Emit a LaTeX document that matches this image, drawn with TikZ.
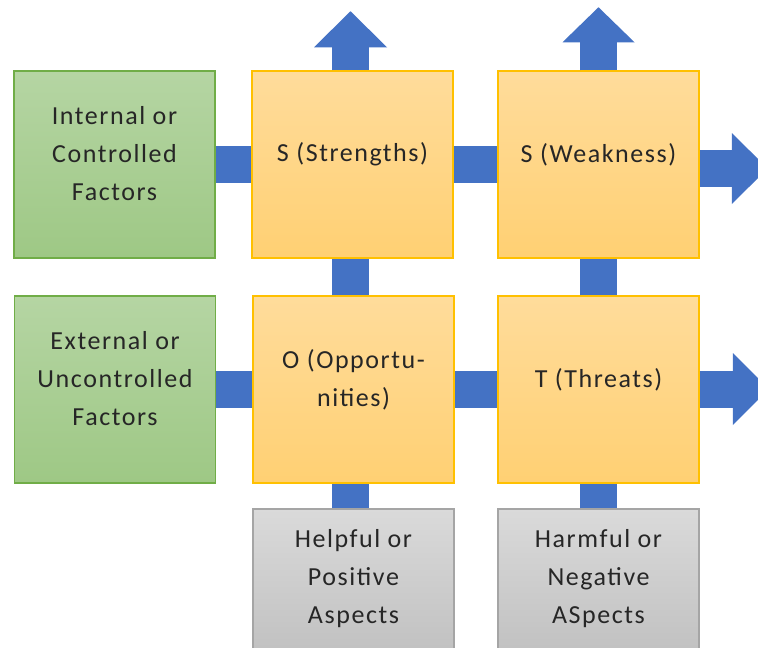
\documentclass[tikz,border=0pt]{standalone}
\usepackage{fontspec}
\setmainfont[LetterSpace=6]{Carlito}
\usetikzlibrary{calc}
\definecolor{conblue}{HTML}{4472C4}
\definecolor{gtop}{RGB}{181,213,163}
\definecolor{gbot}{RGB}{158,200,133}
\definecolor{gline}{HTML}{70AD47}
\definecolor{otop}{RGB}{255,220,155}
\definecolor{obot}{RGB}{255,208,115}
\definecolor{oline}{HTML}{FFC000}
\definecolor{ytop}{RGB}{218,218,218}
\definecolor{ybot}{RGB}{190,190,190}
\definecolor{yline}{HTML}{A5A5A5}
\definecolor{txt}{RGB}{38,38,38}
\begin{document}
\begin{tikzpicture}[x=1pt,y=-1pt,
  box/.style={rectangle,minimum width=201pt,minimum height=187pt,inner sep=0pt,line width=1.5pt},
  greenbox/.style={box,draw=gline,top color=gtop,bottom color=gbot},
  orangebox/.style={box,draw=oline,top color=otop,bottom color=obot},
  graybox/.style={box,minimum height=161pt,draw=yline,top color=ytop,bottom color=ybot},
  lbl/.style={align=center,text=txt,font=\fontsize{26}{38}\selectfont,inner sep=0pt},
  conn/.style={draw=conblue,line width=37pt,line cap=butt},
  head/.style={fill=conblue}
]
\clip (0,0) rectangle (758,648);
\useasboundingbox (0,0) rectangle (758,648);
% boxes
\node[greenbox] (g1) at (114.5,164.5) {};
\node[orangebox] (s) at (352.5,164.5) {};
\node[orangebox] (w) at (598.5,164.5) {};
\node[greenbox] (g2) at (115,389.5) {};
\node[orangebox] (o) at (353.5,389.5) {};
\node[orangebox] (t) at (598.5,389.5) {};
\node[graybox] (h1) at (353.5,589.5) {};
\node[graybox] (h2) at (598.5,589.5) {};
% labels
\node[lbl] (g1t) at ($(g1.center)+(0,-11)$) {Internal or\\Controlled\\Factors};
\node[lbl] (st) at ($(s.center)+(0,-10)$) {S (Strengths)};
\node[lbl] (wt) at ($(w.center)+(0,-10)$) {S (Weakness)};
\node[lbl] (g2t) at ($(g2.center)+(0,-11)$) {External or\\Uncontrolled\\Factors};
\node[lbl] (ot) at ($(o.center)+(0,-10)$) {O (Opportu-\\nities)};
\node[lbl] (tt) at ($(t.center)+(0,-10)$) {T (Threats)};
\node[lbl] (h1t) at ($(h1.center)+(0,-11)$) {Helpful or\\Positive\\Aspects};
\node[lbl] (h2t) at ($(h2.center)+(0,-11)$) {Harmful or\\Negative\\ASpects};
% plain connectors
\draw[conn] (g1.east) -- (s.west);
\draw[conn] (s.east) -- (w.west);
\draw[conn] (g2.east) -- (o.west);
\draw[conn] (o.east) -- (t.west);
\draw[conn] ($(o.north)+(-3,0)$) -- ($(s.south)+(-2,0)$);
\draw[conn] (t.north) -- (w.south);
\draw[conn] ($(h1.north)+(-3,0)$) -- ($(o.south)+(-3,0)$);
\draw[conn] (h2.north) -- (t.south);
% arrows with heads
\coordinate (tipS) at ($(s.north)+(-2,-59)$);
\draw[conn] ($(s.north)+(-2,0)$) -- ($(tipS)+(0,36)$);
\fill[head] ($(tipS)+(-36.5,36)$) -- (tipS) -- ($(tipS)+(36.5,36)$) -- cycle;
\coordinate (tipW) at ($(w.north)+(0,-63)$);
\draw[conn] (w.north) -- ($(tipW)+(0,35)$);
\fill[head] ($(tipW)+(-36,35)$) -- (tipW) -- ($(tipW)+(36,35)$) -- cycle;
\coordinate (tipR1) at ($(w.east)+(68,4)$);
\draw[conn] ($(w.east)+(0,4)$) -- ($(tipR1)+(-36,0)$);
\fill[head] ($(tipR1)+(-36,-35.5)$) -- (tipR1) -- ($(tipR1)+(-36,35.5)$) -- cycle;
\coordinate (tipR2) at ($(t.east)+(69,-0.5)$);
\draw[conn] ($(t.east)+(0,-0.5)$) -- ($(tipR2)+(-36,0)$);
\fill[head] ($(tipR2)+(-36,-36)$) -- (tipR2) -- ($(tipR2)+(-36,36)$) -- cycle;
\end{tikzpicture}
\end{document}
